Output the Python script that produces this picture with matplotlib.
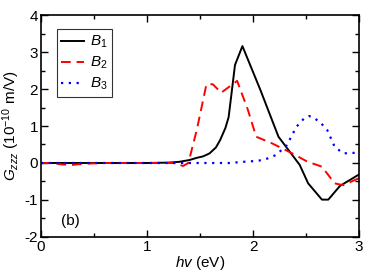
import numpy as np
import matplotlib.pyplot as plt

plt.rcParams['font.family'] = ['Liberation Sans', 'DejaVu Sans']
plt.rcParams['mathtext.fontset'] = 'custom'
plt.rcParams['mathtext.it'] = 'Liberation Sans:italic'
plt.rcParams['mathtext.rm'] = 'Liberation Sans'
plt.rcParams['axes.unicode_minus'] = False

# B1 (black solid)
x_b1 = [0.0, 1.0, 1.2, 1.3, 1.4, 1.47, 1.53, 1.59, 1.65, 1.69, 1.74, 1.77, 1.83, 1.90,
        2.07, 2.24, 2.44, 2.52, 2.65, 2.71, 2.82, 3.0]
y_b1 = [0.0, 0.0, 0.01, 0.03, 0.08, 0.14, 0.18, 0.26, 0.42, 0.62, 0.95, 1.24, 2.65, 3.16,
        1.97, 0.71, -0.05, -0.55, -0.99, -0.99, -0.62, -0.31]

# B2 (red dashed)
x_b2 = [0.0, 0.1, 0.2, 0.3, 0.4, 0.6, 1.0, 1.25, 1.34, 1.39, 1.47, 1.56, 1.62, 1.70,
        1.85, 1.95, 2.03, 2.18, 2.37, 2.51, 2.65, 2.77, 2.85, 3.0]
y_b2 = [0.0, 0.0, -0.04, -0.05, -0.02, 0.0, 0.0, 0.0, -0.08, 0.0, 0.9, 2.12, 2.13, 1.9,
        2.22, 1.45, 0.71, 0.53, 0.26, 0.04, -0.1, -0.55, -0.6, -0.41]

# B3 (blue dotted)
x_b3 = [0.0, 1.0, 1.78, 1.9, 2.0, 2.10, 2.22, 2.32, 2.41, 2.48, 2.53, 2.58, 2.64, 2.70,
        2.77, 2.85, 3.0]
y_b3 = [0.0, 0.0, 0.0, 0.03, 0.05, 0.08, 0.22, 0.49, 0.98, 1.2, 1.27, 1.21, 1.08, 0.89,
        0.44, 0.26, 0.28]

fig = plt.figure(figsize=(3.74, 2.8), dpi=100)
ax = fig.add_axes([0.1096, 0.1536, 0.8504, 0.7928])

ax.plot(x_b1, y_b1, color='black', lw=1.4, label='$B_1$')
ax.plot(x_b2, y_b2, color='red', lw=1.4, ls=(0, (5, 3)), label='$B_2$')
ax.plot(x_b3, y_b3, color='blue', lw=1.6, ls=(0, (1, 2.5)), label='$B_3$')

ax.set_xlim(0, 3)
ax.set_ylim(-2, 4)
ax.set_xticks([0, 1, 2, 3])
ax.set_xticks(np.arange(0, 3.01, 0.5), minor=True)
ax.set_yticks([-2, -1, 0, 1, 2, 3, 4])
ax.set_yticks(np.arange(-2, 4.01, 0.5), minor=True)
ax.tick_params(which='both', direction='in', top=True, right=True, labelsize=11, pad=2)
ax.tick_params(which='major', length=5, width=1)
ax.tick_params(which='minor', length=3, width=1)
for sp in ax.spines.values():
    sp.set_linewidth(1.2)

ax.set_xlabel(r'$hv$ (eV)', fontsize=11, labelpad=0)
ax.set_ylabel(r'$G_{zzz}$ (10$^{-10}$ m/V)', fontsize=11, labelpad=2)
ax.text(0.19, -1.56, '(b)', fontsize=11, va='center', ha='left')

leg = ax.legend(loc='upper left', bbox_to_anchor=(0.05, 0.935), fontsize=11,
                frameon=True, fancybox=False, edgecolor='black', handlelength=1.45,
                handletextpad=0.4, borderpad=0.3, labelspacing=0.3, borderaxespad=0)
leg.get_frame().set_linewidth(0.8)

fig.savefig('out.png', dpi=100)
